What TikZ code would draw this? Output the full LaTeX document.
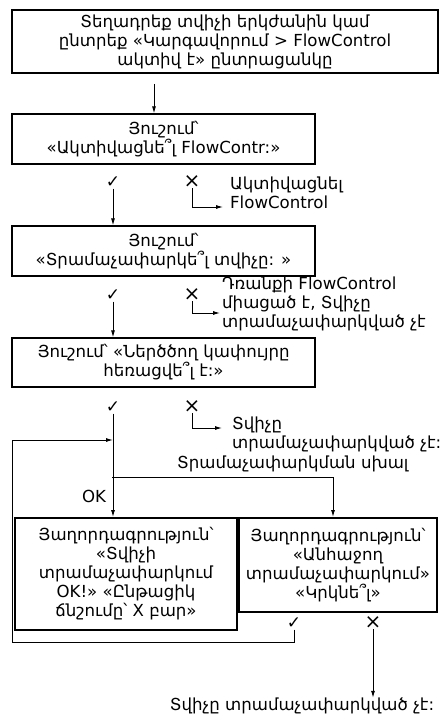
\documentclass[tikz,border=0pt]{standalone}
\usepackage{fontspec}
\setmainfont{DejaVu Sans}
\usetikzlibrary{shapes,arrows.meta,positioning}

\begin{document}
\begin{tikzpicture}[x=1pt, y=-1pt, font=\fontsize{16.6}{19}\selectfont,
    prompt/.style={rectangle, draw, line width=1.3pt, align=center, inner sep=0pt},
    msg/.style={rectangle, draw, line width=2pt, align=center, inner sep=0pt},
    tick/.style={inner sep=1pt, font=\fontsize{17}{19}\selectfont},
    cross/.style={inner sep=0pt, font=\fontsize{20}{19}\selectfont},
    note/.style={align=left, inner sep=0pt, anchor=base west},
    conn/.style={-{Latex[length=7pt,width=4pt]}, line width=0.9pt}]
    \useasboundingbox (0,0) rectangle (446,722);

    \node (setup) [prompt, minimum width=426pt, minimum height=63pt] at (225,41.5) {Տեղադրեք տվիչի երկժանին կամ\\ընտրեք «Կարգավորում > FlowControl\\ակտիվ է» ընտրացանկը};
    \node (ask1) [prompt, minimum width=303pt, minimum height=50pt] at (163.5,139) {Յուշում՝\\«Ակտիվացնե՞լ FlowContr:»};
    \node (ask2) [prompt, minimum width=303pt, minimum height=50pt] at (163.5,251) {Յուշում՝\\«Տրամաչափարկե՞լ տվիչը: »};
    \node (ask3) [prompt, minimum width=303pt, minimum height=49pt] at (163.5,362.5) {Յուշում՝ «Ներծծող կափույրը\\հեռացվե՞լ է:»};
    \node (okmsg) [msg, minimum width=222pt, minimum height=112pt] at (126,574) {Յաղորդագրություն՝\\«Տվիչի\\տրամաչափարկում\\OK!» «Ընթացիկ\\ճնշումը՝ X բար»};
    \node (errmsg) [msg, minimum width=198pt, minimum height=94pt] at (338,565) {Յաղորդագրություն՝\\«Անհաջող\\տրամաչափարկում»\\«Կրկնե՞լ»};

    % yes / no marks under each prompt
    \node (yes1) [tick] at (113,182) {✓};
    \node (no1) [cross] at (192,182) {×};
    \node (yes2) [tick] at (113,295) {✓};
    \node (no2) [cross] at (192,295) {×};
    \node (yes3) [tick] at (113,407) {✓};
    \node (no3) [cross] at (192,407) {×};
    \node (yes4) [tick] at (294,623) {✓};
    \node (no4) [cross] at (373,623) {×};

    % side notes for the "no" branches (base = last line)
    \node (enable) [note] at (230,208) {Ակտիվացնել\\FlowControl};
    \node (doorOn) [note] at (222,327) {Դռանքի FlowControl\\միացած է, Տվիչը\\տրամաչափարկված չէ};
    \node (notCal) [note] at (232,448) {Տվիչը\\տրամաչափարկված չէ:};
    \node (calErr) [anchor=base west, inner sep=0pt] at (177,468) {Տրամաչափարկման սխալ};
    \node (okLbl) [inner sep=0pt] at (94,496) {OK};
    \node (result) [inner sep=0pt] at (302,706) {Տվիչը տրամաչափարկված չէ:};

    \coordinate (a0) at (154,84);
    \coordinate (e1) at (223,207);
    \coordinate (e2) at (220,313);
    \coordinate (e3) at (222,428);
    \coordinate (fork) at (112,477);
    \coordinate (loop) at (12,642);

    \draw[conn] (a0) -- (a0 |- ask1.north);
    \draw[conn] (yes1) -- (yes1 |- ask2.north);
    \draw[conn] (no1) |- (e1);
    \draw[conn] (yes2) -- (yes2 |- ask3.north);
    \draw[conn] (no2) |- (e2);
    \draw[conn] (no3) |- (e3);
    \draw[conn] (yes3) -- (yes3 |- okmsg.north);
    \draw[conn] (fork) -| (errmsg.north -| 333,0);
    \draw[conn] (yes4) |- (loop) |- (yes3 |- 0,440);
    \draw[conn] (no4) -- (result.north -| no4);
\end{tikzpicture}
\end{document}
